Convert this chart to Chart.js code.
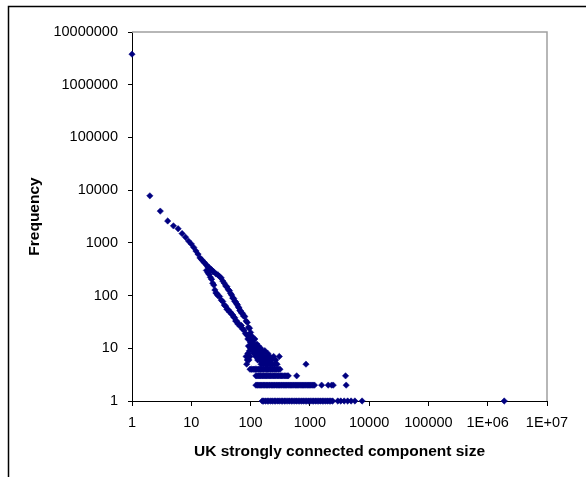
<!DOCTYPE html>
<html>
<head>
<meta charset="utf-8">
<script src="https://cdn.jsdelivr.net/npm/chart.js@4"></script>
<style>
  html, body { margin: 0; padding: 0; background: #fff; }
</style>
</head>
<body>
<canvas id="sccChart" width="586" height="477"></canvas>
<script>
// component sizes along the main curve (both strands) and how often they occur
const curveSizes = [1, 2, 3, 4, 5, 6, 7, 8, 9, 10, 11, 12, 13, 14, 15, 16, 17,
  18, 19, 20, 21, 22, 23, 24, 26, 28, 30, 32, 34, 36, 38, 40, 42, 44, 46, 48, 50,
  52, 54, 56, 58, 60, 62, 64, 66, 68, 70, 73, 76, 80, 84, 88, 92, 96, 100,
  18, 19, 20, 21, 22, 23, 24, 25, 26, 27, 28, 30, 32, 34, 36, 38, 40, 42, 44, 46,
  48, 50, 52, 54, 56, 58, 61, 64, 67, 70, 74, 78, 82, 86, 90, 95, 100];
const curveFreqs = [3800000, 7800, 4000, 2600, 2100, 1850, 1500, 1280, 1080, 950, 820, 700, 610, 520, 480, 440, 410,
  380, 350, 340, 318, 308, 288, 282, 258, 248, 230, 215, 188, 172, 152, 147, 130, 124, 110, 102, 90,
  88, 78, 76, 70, 67, 61, 58, 52, 51, 47, 46, 41, 40, 33, 31, 25, 24, 20,
  300, 272, 252, 222, 204, 172, 158, 128, 112, 110, 100, 96, 82, 77, 66, 63, 55, 54, 49, 48,
  44, 43, 39, 38, 33, 33, 29, 29, 26, 27, 23, 22, 19, 18, 15, 16, 13];

// scattered cloud below the curve
const cloudSizes = [84, 86, 88, 90, 92, 94, 96, 98, 100, 102, 104, 105, 107, 108, 110, 112, 113, 115,
  117, 118, 120, 122, 124, 126, 128, 130, 132, 134, 136, 138, 140, 143, 145, 148, 150, 152, 155,
  158, 160, 163, 166, 170, 174, 178, 182, 186, 190, 195, 200, 205, 212, 218, 227, 235, 245, 255,
  265, 280, 305];
const cloudFreqs = [7, 5, 6, 8, 11, 6, 9, 7, 10, 13, 11, 17, 12, 9, 14, 10, 8, 12,
  9, 15, 11, 7, 10, 8, 12, 9, 6, 8, 11, 7, 9, 6, 8, 10, 5, 7, 9,
  6, 8, 5, 7, 6, 9, 5, 7, 6, 5, 8, 6, 5, 7, 5, 6, 5, 7, 5,
  6, 5, 7];

// sizes seen exactly 4, 3, 2 and 1 times
const sizesSeen4 = [98, 104, 110, 115, 121, 127, 134, 140, 147, 152, 161, 167, 176, 186, 193, 203,
  214, 223, 236, 249, 261, 276, 293, 313];
const sizesSeen3 = [123, 129, 136, 143, 149, 157, 164, 173, 181, 189, 199, 210, 219, 231, 244, 256,
  269, 285, 300, 317, 333, 351, 373, 393, 414, 432, 600, 4000];
const sizesSeen2 = [123, 129, 134, 141, 148, 154, 162, 169, 176, 186, 193, 204, 212, 224, 233, 246,
  256, 270, 281, 296, 308, 325, 338, 356, 371, 391, 408, 429, 448, 471, 492, 517, 540, 568, 593,
  623, 651, 684, 715, 751, 785, 825, 862, 906, 947, 994, 1038, 1091, 1140, 1198, 1580, 2040, 2330,
  2480, 4100];
const sizesSeen1 = [157, 166, 178, 191, 203, 219, 233, 251, 266, 287, 304, 327, 347, 373, 396, 426,
  453, 487, 518, 557, 592, 636, 678, 728, 775, 831, 886, 951, 1013, 1086, 1158, 1242, 1322, 1417,
  1512, 1622, 1728, 1852, 1977, 2118, 2257, 2423, 2960, 3320, 3790, 4340, 4960, 5750, 7600, 1900000];
const sizeNear860 = [860];

const xTickValues = [1, 10, 100, 1000, 10000, 100000, 1000000, 10000000];
const xTickLabels = ["1", "10", "100", "1000", "10000", "100000", "1E+06", "1E+07"];
const yTickValues = [1, 10, 100, 1000, 10000, 100000, 1000000, 10000000];
const yTickLabels = ["1", "10", "100", "1000", "10000", "100000", "1000000", "10000000"];

const points = [];
curveSizes.forEach((s, i) => points.push({ x: s, y: curveFreqs[i] }));
cloudSizes.forEach((s, i) => points.push({ x: s, y: cloudFreqs[i] }));
sizesSeen4.forEach(s => points.push({ x: s, y: 4 }));
sizesSeen3.forEach(s => points.push({ x: s, y: 3 }));
sizesSeen2.forEach(s => points.push({ x: s, y: 2 }));
sizesSeen1.forEach(s => points.push({ x: s, y: 1 }));
sizeNear860.forEach(s => points.push({ x: s, y: 5 }));

const fontFamily = "'Liberation Sans', Arial, sans-serif";

// outer frame + grey top/right edge of the plot area
const framePlugin = {
    id: "frame",
    beforeDraw(chart) {
        const ctx = chart.ctx;
        ctx.save();
        ctx.fillStyle = "#fff";
        ctx.fillRect(0, 0, chart.width, chart.height);
        ctx.strokeStyle = "#000";
        ctx.lineWidth = 1.5;
        ctx.beginPath();
        ctx.moveTo(8.5, chart.height);
        ctx.lineTo(8.5, 6.5);
        ctx.lineTo(chart.width, 6.5);
        ctx.stroke();
        ctx.restore();
    },
    beforeDatasetsDraw(chart) {
        const { ctx, chartArea: a } = chart;
        ctx.save();
        ctx.strokeStyle = "#a0a0a0";
        ctx.lineWidth = 1.5;
        ctx.beginPath();
        ctx.moveTo(a.left, a.top);
        ctx.lineTo(a.right, a.top);
        ctx.lineTo(a.right, a.bottom);
        ctx.stroke();
        ctx.restore();
    },
};

new Chart(document.getElementById("sccChart").getContext("2d"), {
    type: "scatter",
    data: {
        datasets: [{
            data: points,
            pointStyle: "rectRot",
            pointRadius: 3.2,
            pointBorderWidth: 0.5,
            backgroundColor: "#000080",
            borderColor: "#000080",
            clip: false,
        }],
    },
    options: {
        responsive: false,
        devicePixelRatio: 1,
        animation: false,
        layout: { padding: { left: 0, top: 32, right: 39, bottom: 0 } },
        plugins: { legend: { display: false }, tooltip: { enabled: false } },
        scales: {
            x: {
                type: "logarithmic",
                min: 1,
                max: 10000000,
                afterBuildTicks: scale => { scale.ticks = xTickValues.map(v => ({ value: v })); },
                afterFit: scale => { scale.height = 76; },
                ticks: {
                    autoSkip: false,
                    maxRotation: 0,
                    padding: 8,
                    color: "#000",
                    font: { family: fontFamily, size: 14.5 },
                    callback: (v, i) => xTickLabels[i],
                },
                grid: { drawOnChartArea: false, drawTicks: true, tickLength: 5, color: "#000" },
                border: { display: true, color: "#000", width: 1 },
                title: {
                    display: true,
                    text: "UK strongly connected component size",
                    color: "#000",
                    font: { family: fontFamily, size: 15.5, weight: "bold" },
                    padding: { top: 0, bottom: 16 },
                },
            },
            y: {
                type: "logarithmic",
                min: 1,
                max: 10000000,
                afterBuildTicks: scale => { scale.ticks = yTickValues.map(v => ({ value: v })); },
                afterFit: scale => { scale.width = 132; },
                ticks: {
                    autoSkip: false,
                    padding: 10,
                    color: "#000",
                    font: { family: fontFamily, size: 14.5 },
                    callback: (v, i) => yTickLabels[i],
                },
                grid: { drawOnChartArea: false, drawTicks: true, tickLength: 4, color: "#000" },
                border: { display: true, color: "#000", width: 1 },
                title: {
                    display: true,
                    text: "Frequency",
                    color: "#000",
                    font: { family: fontFamily, size: 15.5, weight: "bold" },
                    padding: { top: 25, bottom: 0 },
                },
            },
        },
    },
    plugins: [framePlugin],
});
</script>
</body>
</html>
